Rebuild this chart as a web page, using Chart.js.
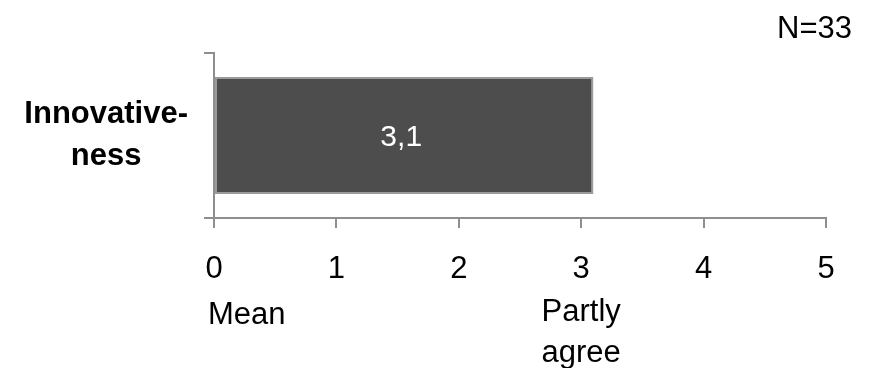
<!DOCTYPE html>
<html>
<head>
<meta charset="utf-8">
<script src="https://cdn.jsdelivr.net/npm/chart.js@4"></script>
<style>
  html, body { margin: 0; padding: 0; background: #ffffff; }
  #wrap { width: 874px; height: 368px; }
</style>
</head>
<body>
<div id="wrap"><canvas id="c"></canvas></div>
<script>
// Survey result: mean score per item on a 0–5 scale
const categories = [['Innovative-', 'ness']];
const meanValues = [3.1];
const xTickValues = [0, 1, 2, 3, 4, 5];
const sampleNote = 'N=33';
const meanCaption = 'Mean';
const anchorCaption = ['Partly', 'agree'];
const anchorValue = 3;

const FONT = "'Liberation Sans', Arial, sans-serif";
const AXIS_GREY = '#8e8e8e';

// Writes each bar's value inside the bar, with a decimal comma
const valueLabels = {
  id: 'valueLabels',
  afterDatasetsDraw(chart) {
    const ctx = chart.ctx;
    ctx.save();
    ctx.fillStyle = '#ffffff';
    ctx.font = '30px ' + FONT;
    ctx.textAlign = 'center';
    ctx.textBaseline = 'middle';
    chart.getDatasetMeta(0).data.forEach((bar, i) => {
      const v = chart.data.datasets[0].data[i];
      const cx = (bar.base + bar.x) / 2;
      ctx.fillText(v.toFixed(1).replace('.', ','), cx - 3, bar.y + 2);
    });
    ctx.restore();
  }
};

// Sample size in the corner and the scale captions under the axis
const captions = {
  id: 'captions',
  afterDraw(chart) {
    const ctx = chart.ctx;
    const xs = chart.scales.x;
    ctx.save();
    ctx.fillStyle = '#000000';
    ctx.font = '31px ' + FONT;
    ctx.textBaseline = 'alphabetic';

    ctx.textAlign = 'right';
    ctx.fillText(sampleNote, 852, 38);

    ctx.textAlign = 'left';
    ctx.fillText(meanCaption, xs.getPixelForValue(0) - 6, 324);

    ctx.textAlign = 'center';
    const ax = xs.getPixelForValue(anchorValue);
    anchorCaption.forEach((line, i) => ctx.fillText(line, ax, 321 + i * 41));
    ctx.restore();
  }
};

new Chart(document.getElementById('c'), {
  type: 'bar',
  data: {
    labels: categories,
    datasets: [{
      data: meanValues,
      backgroundColor: '#4d4d4d',
      borderColor: '#9a9a9a',
      borderWidth: 2,
      borderSkipped: false,
      barPercentage: 0.71,
      categoryPercentage: 1
    }]
  },
  options: {
    indexAxis: 'y',
    responsive: true,
    maintainAspectRatio: false,
    animation: false,
    devicePixelRatio: 1,
    layout: { padding: { top: 53, right: 48, left: 0, bottom: 0 } },
    plugins: {
      legend: { display: false },
      tooltip: { enabled: false }
    },
    scales: {
      x: {
        type: 'linear',
        min: 0,
        max: 5,
        afterBuildTicks(scale) {
          scale.ticks = xTickValues.map(v => ({ value: v }));
        },
        ticks: {
          color: '#000000',
          font: { family: FONT, size: 31 },
          padding: 23
        },
        grid: {
          drawOnChartArea: false,
          drawTicks: true,
          tickLength: 10,
          color: AXIS_GREY,
          lineWidth: 2
        },
        border: { display: true, color: AXIS_GREY, width: 2 },
        afterFit(scale) { scale.height = 150; }
      },
      y: {
        type: 'category',
        ticks: {
          color: '#000000',
          font: { family: FONT, size: 31, weight: 'bold', lineHeight: 1.33 },
          crossAlign: 'center',
          padding: 16
        },
        grid: {
          offset: true,
          drawOnChartArea: false,
          drawTicks: true,
          tickLength: 10,
          color: AXIS_GREY,
          lineWidth: 2
        },
        border: { display: true, color: AXIS_GREY, width: 2 },
        afterFit(scale) {
          scale.width = 214;
          scale.paddingTop = 0;
          scale.paddingBottom = 0;
        }
      }
    }
  },
  plugins: [valueLabels, captions]
});
</script>
</body>
</html>
